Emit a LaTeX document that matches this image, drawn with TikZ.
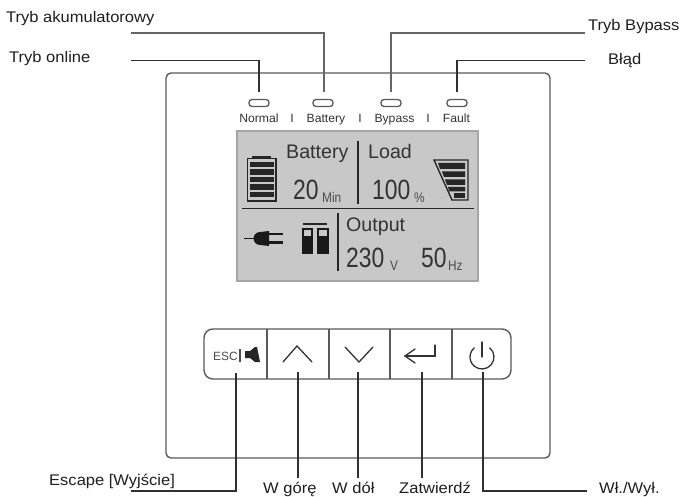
\documentclass[tikz,border=0pt]{standalone}
\usepackage{fontspec}
\setmainfont{Liberation Sans}
\definecolor{lcd}{HTML}{C8C8C8}
\definecolor{edge}{HTML}{5A5A5A}
\definecolor{ink}{HTML}{303030}
\newcommand{\fsz}[1]{\fontsize{#1}{#1}\selectfont}
\tikzset{
  x=1bp,y=-1bp,
  lead/.style={draw=ink,line width=1.5pt,line join=miter},
  callout/.style={inner sep=0pt,text=black!88,anchor=base west,font=\fsz{15.5},xscale=1.07},
  ledlamp/.style={draw=edge,line width=1.3pt,rounded corners=3bp,minimum width=20bp,minimum height=7bp,inner sep=0pt},
  ledname/.style={inner sep=0pt,anchor=base,text=black!80,font=\fsz{12},xscale=1.02},
  lcdtext/.style={inner sep=0pt,anchor=base west,text=black!80,font=\fsz{19.7}},
  lcdnum/.style={inner sep=0pt,anchor=base west,text=black!80,font=\fsz{28},xscale=0.82},
  lcdunit/.style={inner sep=0pt,anchor=base west,text=black!70,font=\fsz{14},xscale=0.85},
  lcdrule/.style={draw=black!85,line width=1.6pt},
  icon/.style={draw=black!85,line width=1.4pt},
  glyph/.style={draw=black!80,line width=1.3pt,line cap=round,line join=miter},
}
\begin{document}
\begin{tikzpicture}
\useasboundingbox (0,0) rectangle (683,497);
\fill[white] (0,0) rectangle (683,497);
% panel
\node (panel) [draw=edge,line width=1.4pt,rounded corners=5bp,minimum width=384bp,minimum height=385bp,inner sep=0pt] at (358,265.5) {};
% LEDs
\node (ledA) [ledlamp] at (259,103) {};
\node (ledB) [ledlamp] at (323,103) {};
\node (ledC) [ledlamp] at (391,103) {};
\node (ledD) [ledlamp] at (457,103) {};
\node (nA) [ledname] at (259,122.5) {Normal};
\node (nB) [ledname] at (326,122.5) {Battery};
\node (nC) [ledname] at (394.5,122.5) {Bypass};
\node (nD) [ledname] at (456.5,122.5) {Fault};
\node (sA) [ledname] at (292,122.5) {I};
\node (sB) [ledname] at (360,122.5) {I};
\node (sC) [ledname] at (428,122.5) {I};
% LCD
\node (lcd) [draw=black!35,fill=lcd,line width=1.2pt,minimum width=241bp,minimum height=150bp,inner sep=0pt] at (357.5,206) {};
\draw[lcdrule] (242,208.5) -- (474,208.5);
\draw[lcdrule] (358,141) -- (358,204);
\draw[lcdrule] (338,213) -- (338,271);
\node (tBat) [lcdtext] at (286,159) {Battery};
\node (tLoad) [lcdtext] at (368,159) {Load};
\node (tOut) [lcdtext] at (346,232) {Output};
\node (n20) [lcdnum] at (293,200) {20};
\node (uMin) [lcdunit] at (322,203) {Min};
\node (n100) [lcdnum] at (372,200) {100};
\node (uPct) [lcdunit] at (414,203) {\%};
\node (n230) [lcdnum] at (346,268) {230};
\node (uV) [lcdunit] at (390,271) {V};
\node (n50) [lcdnum] at (421,268) {50};
\node (uHz) [lcdunit] at (448,271) {Hz};
% battery icon
\draw[icon,fill=lcd] (247.5,158.5) rectangle (276,201);
\fill[black!85] (252,156) rectangle (271,158.5);
\foreach \yy in {162,169.5,177,184.5,192} \fill[black!85] (250,\yy) rectangle (273.5,\yy+5.5);
% load icon
\draw[icon,fill=lcd] (434,160) -- (468,160) -- (468,200) -- (452,200) -- cycle;
\fill[black!85] (438,163) -- (465,163) -- (465,169) -- (440,169) -- cycle;
\fill[black!85] (442,171.5) -- (465,171.5) -- (465,177) -- (444,177) -- cycle;
\fill[black!85] (445,179.5) -- (465,179.5) -- (465,185) -- (447,185) -- cycle;
\fill[black!85] (448,187) -- (465,187) -- (465,191.5) -- (449,191.5) -- cycle;
\fill[black!85] (454,193) -- (465,193) -- (465,198) -- (454,198) -- cycle;
% plug icon
\draw[black!90,line width=2pt] (244,238.5) -- (264,238.5);
\fill[black!90] (260,232) -- (269,231) -- (269,246) -- (260,245) arc[start angle=270,end angle=90,radius=6.5bp];
\fill[black!90] (269,233) rectangle (283,235.5);
\fill[black!90] (269,241.5) rectangle (283,244);
% UPS icon
\draw[black!85,line width=1.2pt] (303,224) -- (327,224);
\fill[black!90] (302,228) rectangle (313,254);
\fill[black!90] (317,228) rectangle (329,254);
\fill[lcd] (304,230) rectangle (311,236);
\fill[lcd] (319,230) rectangle (327,236);
% button bar
\node (bar) [draw=edge,line width=1.4pt,rounded corners=9bp,minimum width=307bp,minimum height=50bp,inner sep=0pt] at (357.5,354) {};
\draw[edge,line width=1.4pt] (267,329) -- (267,379) (329,329) -- (329,379) (390,329) -- (390,379) (452,329) -- (452,379);
\node (esc) [inner sep=0pt,anchor=base west,text=black!70,font=\fsz{12}] at (213,360.5) {ESC};
\draw[black!70,line width=1.2pt] (240,349) -- (240,362);
\fill[black!85] (245,351) -- (250,351) -- (255,347) -- (257,347) -- (260,362) -- (255,362) -- (250,358) -- (245,358) -- cycle;
\draw[glyph] (283,362) -- (297,346) -- (312,362);
\draw[glyph] (345,347) -- (359,362) -- (373,347);
\draw[glyph] (415,349) -- (405,356) -- (415,363);
\draw[glyph] (405,356) -- (435,356) -- (435,345);
\draw[glyph] (489.7,347.8) arc[start angle=50,end angle=-230,radius=12bp];
\draw[glyph] (482,342) -- (482,357);
% callout labels
\node (lOnline) [callout] at (9,63) {Tryb online};
\node (lAku) [callout] at (6,23) {Tryb akumulatorowy};
\node (lByp) [callout] at (588,31) {Tryb Bypass};
\node (lBlad) [callout] at (608,65) {Błąd};
\node (lEsc) [callout] at (49,485) {Escape [Wyjście]};
\node (lUp) [callout] at (263,493) {W górę};
\node (lDown) [callout] at (332,493) {W dół};
\node (lOk) [callout] at (399,493) {Zatwierdź};
\node (lPow) [callout] at (599,493) {Wł./Wył.};
% connector free ends
\coordinate (fOnline) at (131,60.5);
\coordinate (fAku) at (131,33);
\coordinate (fByp) at (585,33);
\coordinate (fBlad) at (585,60.5);
\coordinate (fEsc) at (131,491);
\coordinate (fPow) at (587,491);
\coordinate (eA) at (259,92);
\coordinate (eB) at (324,92);
\coordinate (eC) at (391,92);
\coordinate (eD) at (457,92);
\coordinate (bEsc) at (236,373);
\coordinate (bUp) at (298,372);
\coordinate (bDown) at (358,372);
\coordinate (bOk) at (422,372);
\coordinate (bPow) at (483,372);
\coordinate (tUp) at (298,478);
\coordinate (tDown) at (358,478);
\coordinate (tOk) at (422,478);
% connectors
\draw[lead] (fOnline) -| (eA);
\draw[lead,draw=black!60] (fAku) -| (eB);
\draw[lead,draw=black!60] (fByp) -| (eC);
\draw[lead] (fBlad) -| (eD);
\draw[lead] (fEsc) -| (bEsc);
\draw[lead] (fPow) -| (bPow);
\draw[lead] (tUp) -- (bUp);
\draw[lead] (tDown) -- (bDown);
\draw[lead] (tOk) -- (bOk);
\end{tikzpicture}
\end{document}
